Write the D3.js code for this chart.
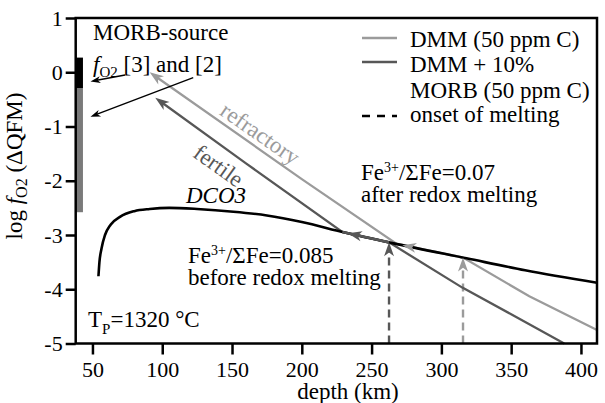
<!DOCTYPE html>
<html><head><meta charset="utf-8">
<script src="https://cdn.jsdelivr.net/npm/d3@7"></script>
<style>body{margin:0;background:#fff} text{font-family:"Liberation Serif","Times New Roman",serif;fill:#000}</style>
</head><body><svg id="c" width="605" height="403"></svg>
<script>
// ---- data ----
const xTicks = [50, 100, 150, 200, 250, 300, 350, 400];
const yTicks = [1, 0, -1, -2, -3, -4, -5];
// DCO3 buffer curve
const dco3Depth = [54.3, 55, 56.5, 59, 63, 70, 80, 91, 105, 125, 151, 175, 200, 230, 265, 318, 360, 411.5];
const dco3Logf  = [-3.76, -3.5, -3.25, -3.0, -2.81, -2.66, -2.56, -2.52, -2.5, -2.52, -2.57, -2.64, -2.76, -2.95, -3.15, -3.43, -3.65, -3.88];
// DMM (refractory) path
const refLowDepth = [411.5, 363];   const refLowLogf = [-4.75, -4.13];
const refUpDepth  = [200, 91];      const refUpLogf  = [-1.97, 0.0];
const refOnset = 315.5, refDepart = 268, refArrowOnDco3 = 272;
// DMM + 10% MORB (fertile) path
const ferLowDepth = [388, 350, 315]; const ferLowLogf = [-5.0, -4.46, -3.97];
const ferUpDepth  = [160, 95];       const ferUpLogf  = [-1.68, -0.47];
const ferOnset = 262.5, ferDepart = 229, ferArrowOnDco3 = 233;
// MORB-source fO2 bars [3] and [2]
const barTop = [0.27, -0.3];
const barBottom = [-0.3, -2.58];
const barDepth = [38, 43.2];
// pointer arrows from the label
const ptrFrom = [[73.4, -0.05], [122.2, -0.10]];
const ptrTo   = [[48.6, -0.17], [48.6, -0.82]];

const cLight = "#9b9b9b", cDark = "#575757", cBarGrey = "#7a7a7a";

// ---- scales ----
const svg = d3.select("#c");
svg.append("rect").attr("width",605).attr("height",403).attr("fill","#fff");
const x = d3.scaleLinear().domain([38, 411.5]).range([75.7, 597]);
const y = d3.scaleLinear().domain([-5, 1]).range([343.5, 18]);

function dco3At(d){
  for (let i=0;i<dco3Depth.length-1;i++){
    if (d>=dco3Depth[i] && d<=dco3Depth[i+1]){
      const t=(d-dco3Depth[i])/(dco3Depth[i+1]-dco3Depth[i]);
      return dco3Logf[i]+t*(dco3Logf[i+1]-dco3Logf[i]);
    }
  }
  return dco3Logf[dco3Logf.length-1];
}
function alongDco3(d0,d1){ // from d0 down to d1 (d0>d1)
  const pts=[[d0,dco3At(d0)]];
  dco3Depth.forEach((d,i)=>{ if(d<d0 && d>d1) pts.push([d,dco3Logf[i]]); });
  pts.push([d1,dco3At(d1)]);
  return pts;
}
const toPx = p => [x(p[0]), y(p[1])];
function arrowHead(tip, from, color, L, W){
  const a=Math.atan2(tip[1]-from[1], tip[0]-from[0])*180/Math.PI;
  svg.append("path").attr("d",`M0,0L${-L},${-W/2}L${-L*0.72},0L${-L},${W/2}Z`)
    .attr("fill",color).attr("transform",`translate(${tip[0]},${tip[1]}) rotate(${a})`);
}
function trimEnd(px, n){
  const a=px[px.length-1], b=px[px.length-2];
  const dx=a[0]-b[0], dy=a[1]-b[1], len=Math.hypot(dx,dy);
  const out=px.slice(0,-1); out.push([a[0]-dx/len*n, a[1]-dy/len*n]); return out;
}
const line = d3.line();

// ---- bars ----
barTop.forEach((t,i)=>{
  svg.append("rect").attr("x",x(barDepth[0])).attr("width",x(barDepth[1])-x(barDepth[0]))
    .attr("y",y(t)).attr("height",y(barBottom[i])-y(t))
    .attr("fill", i===0?"#000":cBarGrey);
});

// ---- paths ----
function buildPath(lowD,lowF,onset,depart,upD,upF){
  const pts=lowD.map((d,i)=>[d,lowF[i]]);
  alongDco3(onset,depart).forEach(p=>pts.push(p));
  upD.forEach((d,i)=>pts.push([d,upF[i]]));
  return pts;
}
const refPts = buildPath(refLowDepth,refLowLogf,refOnset,refDepart,refUpDepth,refUpLogf);
const ferPts = buildPath(ferLowDepth,ferLowLogf,ferOnset,ferDepart,ferUpDepth,ferUpLogf);

// onset dashed lines
[[refOnset,cLight],[ferOnset,cDark]].forEach(([d,c])=>{
  svg.append("line").attr("x1",x(d)).attr("x2",x(d)).attr("y1",y(-5)).attr("y2",y(dco3At(d))+6)
    .attr("stroke",c).attr("stroke-width",2.4).attr("stroke-dasharray","8,5");
});

const refPx = refPts.map(toPx), ferPx = ferPts.map(toPx);
svg.append("path").attr("d",line(trimEnd(refPx,6))).attr("fill","none").attr("stroke",cLight).attr("stroke-width",2.3);
svg.append("path").attr("d",line(trimEnd(ferPx,6))).attr("fill","none").attr("stroke",cDark).attr("stroke-width",2.3);

// DCO3
svg.append("path").attr("d", d3.line().curve(d3.curveMonotoneX).x(d=>x(d[0])).y(d=>y(d[1]))(dco3Depth.map((d,i)=>[d,dco3Logf[i]])))
  .attr("fill","none").attr("stroke","#000").attr("stroke-width",2.6);
// fertile overlay along DCO3
svg.append("path").attr("d",line(alongDco3(ferOnset,ferDepart).map(toPx))).attr("fill","none").attr("stroke",cDark).attr("stroke-width",2.6);

// arrowheads
arrowHead(refPx[refPx.length-1], refPx[refPx.length-2], cLight, 14, 10);
arrowHead(ferPx[ferPx.length-1], ferPx[ferPx.length-2], cDark, 14, 10);
arrowHead(toPx([refArrowOnDco3,dco3At(refArrowOnDco3)]), toPx([refArrowOnDco3+5,dco3At(refArrowOnDco3+5)]), cLight, 14, 10);
arrowHead(toPx([ferArrowOnDco3,dco3At(ferArrowOnDco3)]), toPx([ferArrowOnDco3+5,dco3At(ferArrowOnDco3+5)]), cDark, 14, 10);
[[refOnset,cLight],[ferOnset,cDark]].forEach(([d,c])=>{
  const tip=toPx([d,dco3At(d)]);
  arrowHead(tip,[tip[0],tip[1]+10],c,14,10);
});

// pointer arrows
ptrFrom.forEach((f,i)=>{
  const a=toPx(f), b=toPx(ptrTo[i]);
  svg.append("path").attr("d",line(trimEnd([a,b],5))).attr("stroke","#000").attr("stroke-width",1.4).attr("fill","none");
  arrowHead(b,a,"#000",10,7);
});

// ---- frame and axes ----
svg.append("rect").attr("x",x(38)).attr("y",y(1)).attr("width",x(411.5)-x(38)).attr("height",y(-5)-y(1))
  .attr("fill","none").attr("stroke","#000").attr("stroke-width",2.5);
const ya = svg.append("g").attr("transform",`translate(${x(38)},0)`)
  .call(d3.axisLeft(y).tickValues(yTicks).tickSize(10).tickPadding(3).tickFormat(d=>String(d)));
const xa = svg.append("g").attr("transform",`translate(0,${y(-5)})`)
  .call(d3.axisBottom(x).tickValues(xTicks).tickSize(11).tickPadding(7).tickFormat(d=>String(d)));
[ya,xa].forEach(g=>{
  g.select(".domain").remove();
  g.selectAll(".tick line").attr("stroke","#000").attr("stroke-width",2.5);
  g.selectAll(".tick text").attr("font-size",22).attr("font-family",'"Liberation Serif",serif').attr("fill","#000");
});

// axis titles
svg.append("text").attr("x",348).attr("y",399).attr("text-anchor","middle").attr("font-size",23).text("depth (km)");
const yl = svg.append("text").attr("transform","translate(22,166) rotate(-90)").attr("text-anchor","middle").attr("font-size",23);
yl.append("tspan").text("log ");
yl.append("tspan").attr("font-style","italic").text("f");
yl.append("tspan").attr("font-size",16).attr("dy",5).text("O2");
yl.append("tspan").attr("dy",-5).text(" (ΔQFM)");

// ---- annotations ----
function txt(xp,yp,size){ return svg.append("text").attr("x",xp).attr("y",yp).attr("font-size",size||23); }
txt(93,40).text("MORB-source");
const t2=txt(93,71.5);
t2.append("tspan").attr("font-style","italic").text("f");
t2.append("tspan").attr("font-size",15).attr("dy",5).text("O2");
t2.append("tspan").attr("dy",-5).text(" [3] and [2]");

function feText(xp,yp,val,line2){
  const t=txt(xp,yp);
  t.append("tspan").text("Fe");
  t.append("tspan").attr("font-size",14).attr("dy",-8).text("3+");
  t.append("tspan").attr("dy",8).text("/ΣFe="+val);
  txt(xp,yp+22).text(line2);
}
feText(361,180,"0.07","after redox melting");
feText(188,263,"0.085","before redox melting");

const tp=txt(88,327);
tp.append("tspan").text("T");
tp.append("tspan").attr("font-size",15).attr("dy",7).text("P");
tp.append("tspan").attr("dy",-7).text("=1320 °C");

txt(186,203).attr("font-style","italic").text("DCO3");

// rotated path labels
function pathLabel(label, d, f, offset, color, p0, p1){
  const a=Math.atan2(p1[1]-p0[1], p1[0]-p0[0]);
  const px=x(d)+Math.sin(a)*offset, py=y(f)-Math.cos(a)*offset;
  svg.append("text").attr("transform",`translate(${px},${py}) rotate(${a*180/Math.PI})`)
    .attr("text-anchor","middle").attr("font-size",23).style("fill",color).text(label);
}
{
  const p0=toPx([refUpDepth[1],refUpLogf[1]]), p1=toPx([refDepart,dco3At(refDepart)]);
  const dd=165, ff=refUpLogf[1]+(dd-refUpDepth[1])*(dco3At(refDepart)-refUpLogf[1])/(refDepart-refUpDepth[1]);
  pathLabel("refractory", dd, ff, 5, cLight, p0, p1);
  const q0=toPx([ferUpDepth[1],ferUpLogf[1]]), q1=toPx([ferDepart,dco3At(ferDepart)]);
  const de=148, fe=ferUpLogf[1]+(de-ferUpDepth[1])*(dco3At(ferDepart)-ferUpLogf[1])/(ferDepart-ferUpDepth[1]);
  pathLabel("fertile", de, fe, -26, cDark, q0, q1);
}

// ---- legend ----
const lg=[["DMM (50 ppm C)",cLight,null,46.5,38],["DMM + 10%",cDark,null,72,62],["MORB (50 ppm C)",null,null,98,null],["onset of melting","#000","8,7",122,116]];
lg.forEach(([t,c,dash,ty,ly])=>{
  if(c){ svg.append("line").attr("x1",362).attr("x2",397).attr("y1",ly).attr("y2",ly).attr("stroke",c).attr("stroke-width",2.5).attr("stroke-dasharray",dash); }
  txt(410,ty).text(t);
});
</script></body></html>
